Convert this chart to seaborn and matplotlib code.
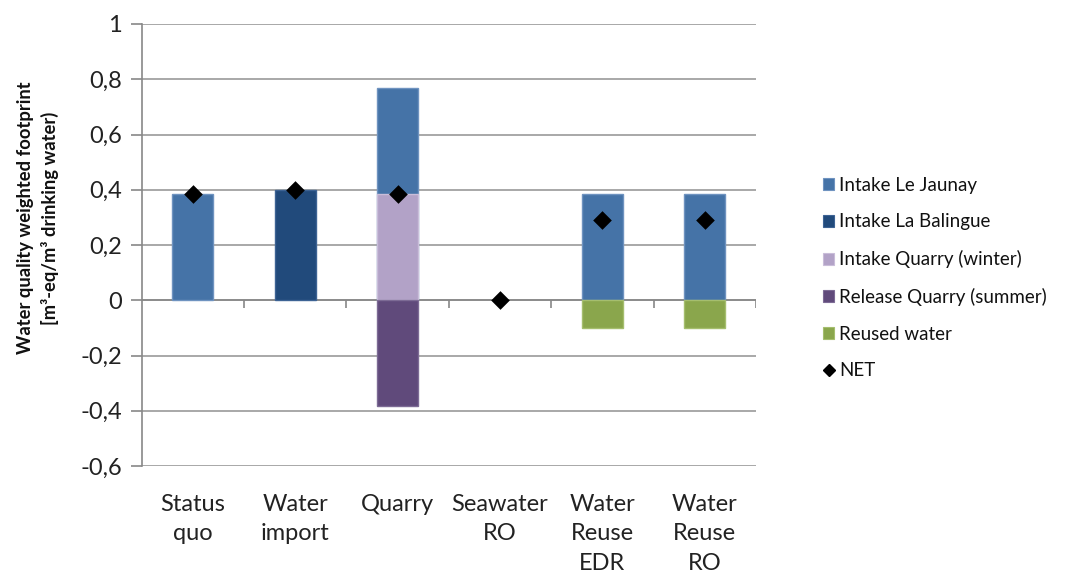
import pandas as pd
import seaborn as sns
import matplotlib.pyplot as plt
from matplotlib.patches import Patch
from matplotlib.lines import Line2D

# data
categories = ["Status\nquo", "Water\nimport", "Quarry", "Seawater\nRO",
              "Water\nReuse\nEDR", "Water\nReuse\nRO"]
intake_jaunay = [0.383, None, 0.385, None, 0.383, 0.383]
intake_balingue = [None, 0.40, None, None, None, None]
intake_quarry_winter = [None, None, 0.383, None, None, None]
release_quarry_summer = [None, None, -0.383, None, None, None]
reused_water = [None, None, None, None, -0.10, -0.10]
net = [0.383, 0.40, 0.383, 0.0, 0.29, 0.29]

series_names = ["Intake Le Jaunay", "Intake La Balingue", "Intake Quarry (winter)",
                "Release Quarry (summer)", "Reused water"]
colors = ["#4573A7", "#214A7B", "#B2A2C7", "#604A7B", "#8AA64C"]
edges = ["#6F93C0", "#3D6394", "#C9BDD9", "#7D6B95", "#A5BE6E"]

df = pd.DataFrame({
    "cat": categories,
    "jaunay": intake_jaunay,
    "balingue": intake_balingue,
    "winter": intake_quarry_winter,
    "summer": release_quarry_summer,
    "reused": reused_water,
})
# Jaunay sits on top of the winter intake in the Quarry column
df["jaunay_top"] = df["jaunay"] + df["winter"].fillna(0)

sns.set_style("white")
plt.rcParams["font.family"] = ["Lato", "DejaVu Sans"]

fig = plt.figure(figsize=(10.65, 5.76), dpi=100)
ax = fig.add_axes([141.5 / 1065, 1 - 466 / 576, (756 - 141.5) / 1065, 442 / 576])

layers = [("jaunay_top", 0), ("balingue", 1), ("winter", 2), ("summer", 3), ("reused", 4)]
for col, i in layers:
    sub = df.dropna(subset=[col])
    sns.barplot(x=sub["cat"], y=sub[col], order=categories, width=0.4,
                color=colors[i], saturation=1, errorbar=None,
                edgecolor=edges[i], linewidth=1.0, ax=ax, zorder=3)

sns.stripplot(x=categories, y=net, order=categories, jitter=False, marker="D",
              color="black", size=9.5, linewidth=0, ax=ax, zorder=5)

ax.set_xlim(-0.5, len(categories) - 0.5)
ax.set_ylim(-0.6, 1.0)
ax.set_yticks([-0.6, -0.4, -0.2, 0, 0.2, 0.4, 0.6, 0.8, 1.0])
ax.set_yticklabels(["-0,6", "-0,4", "-0,2", "0", "0,2", "0,4", "0,6", "0,8", "1"],
                   fontsize=17, color="#222222")
ax.yaxis.grid(True, color="#9a9a9a", linewidth=1.2, zorder=0)
ax.set_axisbelow(True)

ax.set_xticks(range(len(categories)))
ax.set_xticklabels(categories, fontsize=17, color="#222222", linespacing=1.5)
ax.tick_params(axis="x", length=0, pad=20)
ax.tick_params(axis="y", length=8, width=1.2, color="#888888", left=True, pad=6)

for s in ["top", "right", "bottom"]:
    ax.spines[s].set_visible(False)
ax.spines["left"].set_color("#888888")
ax.spines["left"].set_linewidth(1.2)

# category axis crosses at zero with boundary tick marks
ax.axhline(0, color="#888888", linewidth=1.2, zorder=2)
ax.vlines([k + 0.5 for k in range(len(categories))], -0.029, 0,
          color="#888888", linewidth=1.2, zorder=2)

ax.set_xlabel("")
ax.set_ylabel("Water quality weighted footprint\n[m³-eq/m³ drinking water)",
              fontsize=13.2, fontweight="bold", color="#111111", linespacing=1.4)
ax.yaxis.set_label_coords(-0.135, 0.561)

handles = [Patch(facecolor=c, edgecolor=e, linewidth=0.8) for c, e in zip(colors, edges)]
handles.append(Line2D([], [], marker="D", color="black", linestyle="none", markersize=6))
fig.legend(handles, series_names + ["NET"], loc="center left",
           bbox_to_anchor=(806 / 1065, 1 - 278 / 576), frameon=False,
           fontsize=13.5, handlelength=0.6, handleheight=0.6, handletextpad=0.25,
           labelspacing=1.05, labelcolor="#111111")

fig.savefig("out.png", dpi=100)
